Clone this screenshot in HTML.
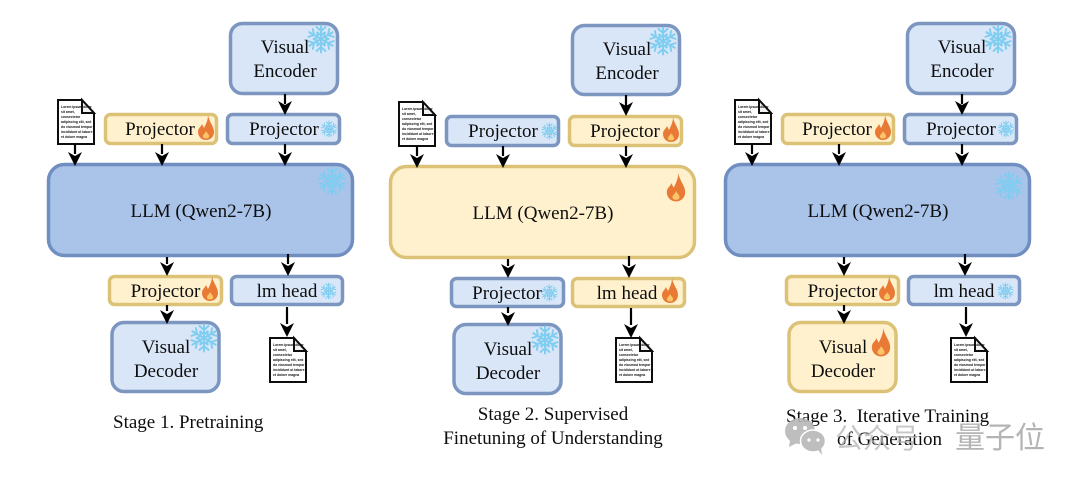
<!DOCTYPE html>
<html lang="en">
<head>
<meta charset="utf-8">
<title>Training stages</title>
<style>
html,body{margin:0;padding:0;background:#fff;width:1080px;height:482px;overflow:hidden}
svg{display:block}
text{font-family:"Liberation Serif","Noto Serif CJK SC",serif;fill:#111}
.b{fill:#d8e6f8;stroke:#7b96c0;stroke-width:3.5}
.l{fill:#a9c3e9;stroke:#6f8fc0;stroke-width:3.5}
.y{fill:#fff1cd;stroke:#dcc277;stroke-width:3.5}
.t{font-size:19px;text-anchor:middle}
.c{font-size:19px}
.d{font-family:"Liberation Sans",sans-serif;font-size:3.4px;font-weight:bold;fill:#111}
.wm{font-family:"Noto Sans CJK SC","WenQuanYi Zen Hei",sans-serif;fill:#b4b4b4}
.k{stroke:#000;stroke-width:2.2;fill:none}
</style>
</head>
<body>
<svg width="1080" height="482" viewBox="0 0 1080 482" xmlns="http://www.w3.org/2000/svg">
<defs>
<filter id="s" x="-2%" y="-2%" width="104%" height="104%"><feGaussianBlur stdDeviation="0.3"/></filter>
<g id="arm"><path d="M0 0V-13.500M-4.500 -12L0 -8L4.500 -12M-3.500 -6.500L0 -3.500L3.500 -6.500"/></g>
<g id="flake" stroke="#7fcdf0" stroke-width="1.9" fill="none" stroke-linecap="round">
<use href="#arm"/><use href="#arm" transform="rotate(60)"/><use href="#arm" transform="rotate(120)"/><use href="#arm" transform="rotate(180)"/><use href="#arm" transform="rotate(240)"/><use href="#arm" transform="rotate(300)"/>
</g>
<g id="fire">
<path d="M2 -15C3 -8 8 -4 8 2C8 7 4 10 0 10C-5 10 -8 6 -8 2C-8 -2 -5 -3 -4 -6C-3 -4 -2.500 -3 -2 -2C0 -6 2 -10 2 -15Z" fill="#e97a35"/>
<path d="M0 1C1 3 3.500 4.500 3 7C2.500 9 -2.500 9 -3 7C-3.500 4.500 -1 4 0 1Z" fill="#fbc56a"/>
</g>
<g id="doc">
<path d="M0 0H24L36 13V44H0Z" fill="#fff" stroke="#111" stroke-width="2"/>
<path d="M24 0V13H36Z" fill="#f2f2f2" stroke="#111" stroke-width="2"/>
<text class="d" x="3" y="8">Lorem ipsum dolor</text>
<text class="d" x="3" y="13">sit amet,</text>
<text class="d" x="3" y="18">consectetur</text>
<text class="d" x="3" y="23">adipiscing elit, sed</text>
<text class="d" x="3" y="28">do eiusmod tempor</text>
<text class="d" x="3" y="33">incididunt ut labore</text>
<text class="d" x="3" y="38">et dolore magna</text>
</g>
<path id="ah" d="M-7 -13L0 -9L7 -13L0 1Z" fill="#000"/>
</defs>

<g filter="url(#s)">
<!-- Stage 1 -->
<g>
<rect class="b" x="230.500" y="23.500" width="107" height="70" rx="12"/>
<text class="t" x="285" y="53">Visual</text><text class="t" x="285" y="77">Encoder</text>
<use href="#flake" x="321" y="39"/>
<rect class="y" x="105.500" y="114.500" width="111" height="29" rx="5"/>
<text class="t" x="160" y="135">Projector</text><use href="#fire" x="206" y="130"/>
<rect class="b" x="227.500" y="114.500" width="112" height="29" rx="5"/>
<text class="t" x="284" y="135">Projector</text><use href="#flake" transform="translate(329 129) scale(.58)"/>
<use href="#doc" x="58" y="100"/>
<rect class="l" x="48.500" y="164.500" width="304" height="91" rx="16"/>
<text class="t" x="201" y="217">LLM (Qwen2-7B)</text>
<use href="#flake" x="332" y="181"/>
<rect class="y" x="109.500" y="276.500" width="112" height="28" rx="5"/>
<text class="t" x="165.500" y="297">Projector</text><use href="#fire" x="210" y="291"/>
<rect class="b" x="231.500" y="276.500" width="111" height="28" rx="5"/>
<text class="t" x="287" y="297">lm head</text><use href="#flake" transform="translate(328.500 291) scale(.58)"/>
<rect class="b" x="112" y="322.500" width="107" height="69" rx="12"/>
<text class="t" x="166" y="353">Visual</text><text class="t" x="166" y="377">Decoder</text>
<use href="#flake" x="204" y="338"/>
<use href="#doc" x="270" y="338"/>
<text class="c" x="113" y="428">Stage 1. Pretraining</text>
<path class="k" d="M285 94V104M75 144V154M162 144V154M285 144V154M167 257V264M288 254V264M167 305V311M287 307V324"/>
<use href="#ah" x="285" y="114"/><use href="#ah" x="75" y="165"/><use href="#ah" x="162" y="165"/><use href="#ah" x="285" y="165"/>
<use href="#ah" x="167" y="275"/><use href="#ah" x="288" y="275"/><use href="#ah" x="167" y="323"/><use href="#ah" x="287" y="336"/>
</g>

<!-- Stage 2 -->
<g>
<rect class="b" x="572.500" y="25.500" width="107" height="69" rx="12"/>
<text class="t" x="627" y="55">Visual</text><text class="t" x="627" y="79">Encoder</text>
<use href="#flake" x="663" y="41"/>
<rect class="b" x="446.500" y="116.500" width="112" height="29" rx="5"/>
<text class="t" x="503" y="137">Projector</text><use href="#flake" transform="translate(549.500 131) scale(.58)"/>
<rect class="y" x="569.500" y="116.500" width="112" height="29" rx="5"/>
<text class="t" x="625" y="137">Projector</text><use href="#fire" x="671" y="132"/>
<use href="#doc" x="399" y="102"/>
<rect class="y" x="390.500" y="166.500" width="304" height="91" rx="16"/>
<text class="t" x="543" y="219">LLM (Qwen2-7B)</text>
<use href="#fire" transform="translate(676 190) scale(1.15)"/>
<rect class="b" x="451.500" y="278.500" width="112" height="28" rx="5"/>
<text class="t" x="507" y="299">Projector</text><use href="#flake" transform="translate(549.500 293) scale(.58)"/>
<rect class="y" x="572.500" y="278.500" width="112" height="28" rx="5"/>
<text class="t" x="627" y="299">lm head</text><use href="#fire" x="670" y="293"/>
<rect class="b" x="454" y="324.500" width="107" height="69" rx="12"/>
<text class="t" x="508" y="355">Visual</text><text class="t" x="508" y="379">Decoder</text>
<use href="#flake" x="545" y="340"/>
<use href="#doc" x="616" y="338"/>
<text class="t" x="553" y="420">Stage 2. Supervised</text>
<text class="t" x="553" y="444">Finetuning of Understanding</text>
<path class="k" d="M626 95V106M417 146V156M503 146V156M626 146V156M508 259V266M629 256V266M508 307V313M631 308V325"/>
<use href="#ah" x="626" y="115"/><use href="#ah" x="417" y="167"/><use href="#ah" x="503" y="167"/><use href="#ah" x="626" y="167"/>
<use href="#ah" x="508" y="277"/><use href="#ah" x="629" y="277"/><use href="#ah" x="508" y="325"/><use href="#ah" x="631" y="337"/>
</g>

<!-- Stage 3 -->
<g>
<rect class="b" x="907.500" y="23.500" width="107" height="70" rx="12"/>
<text class="t" x="962" y="53">Visual</text><text class="t" x="962" y="77">Encoder</text>
<use href="#flake" x="998" y="39"/>
<rect class="y" x="782.500" y="114.500" width="111" height="29" rx="5"/>
<text class="t" x="837" y="135">Projector</text><use href="#fire" x="883" y="130"/>
<rect class="b" x="904.500" y="114.500" width="112" height="29" rx="5"/>
<text class="t" x="961" y="135">Projector</text><use href="#flake" transform="translate(1006 129) scale(.58)"/>
<use href="#doc" x="735" y="100"/>
<rect class="l" x="725.500" y="164.500" width="304" height="91" rx="16"/>
<text class="t" x="878" y="217">LLM (Qwen2-7B)</text>
<use href="#flake" x="1009" y="186"/>
<rect class="y" x="786.500" y="276.500" width="112" height="28" rx="5"/>
<text class="t" x="842.500" y="297">Projector</text><use href="#fire" x="887" y="291"/>
<rect class="b" x="908.500" y="276.500" width="111" height="28" rx="5"/>
<text class="t" x="964" y="297">lm head</text><use href="#flake" transform="translate(1005.500 291) scale(.58)"/>
<rect class="y" x="789" y="322.500" width="107" height="69" rx="12"/>
<text class="t" x="843" y="353">Visual</text><text class="t" x="843" y="377">Decoder</text>
<use href="#fire" transform="translate(881 345) scale(1.15)"/>
<use href="#doc" x="951" y="338"/>
<text class="c" x="786" y="422" xml:space="preserve">Stage 3.  Iterative Training</text>
<text class="c" x="837" y="445">of Generation</text>
<path class="k" d="M962 94V104M752 144V154M839 144V154M962 144V154M844 257V264M965 254V264M844 305V311M966 307V324"/>
<use href="#ah" x="962" y="114"/><use href="#ah" x="752" y="165"/><use href="#ah" x="839" y="165"/><use href="#ah" x="962" y="165"/>
<use href="#ah" x="844" y="275"/><use href="#ah" x="965" y="275"/><use href="#ah" x="844" y="323"/><use href="#ah" x="966" y="336"/>
</g>

<!-- Watermark -->
<g>
<g fill="#b7b7b7" opacity=".9">
<ellipse cx="800" cy="431" rx="15" ry="13"/><path d="M790 440L789 447L797 443Z"/>
<ellipse cx="813" cy="441" rx="12.500" ry="11" stroke="#fff" stroke-width="1.500"/><path d="M818 450L822 455L821 447Z"/>
</g>
<g fill="#fff"><circle cx="795" cy="428" r="2"/><circle cx="805" cy="428" r="2"/><circle cx="809" cy="440" r="1.600"/><circle cx="818" cy="440" r="1.600"/></g>
<text class="wm" x="835" y="448" font-size="28" opacity=".75">公众号</text>
<text class="wm" x="955" y="448" font-size="30">量子位</text>
</g>
</g>
</svg>
</body>
</html>
